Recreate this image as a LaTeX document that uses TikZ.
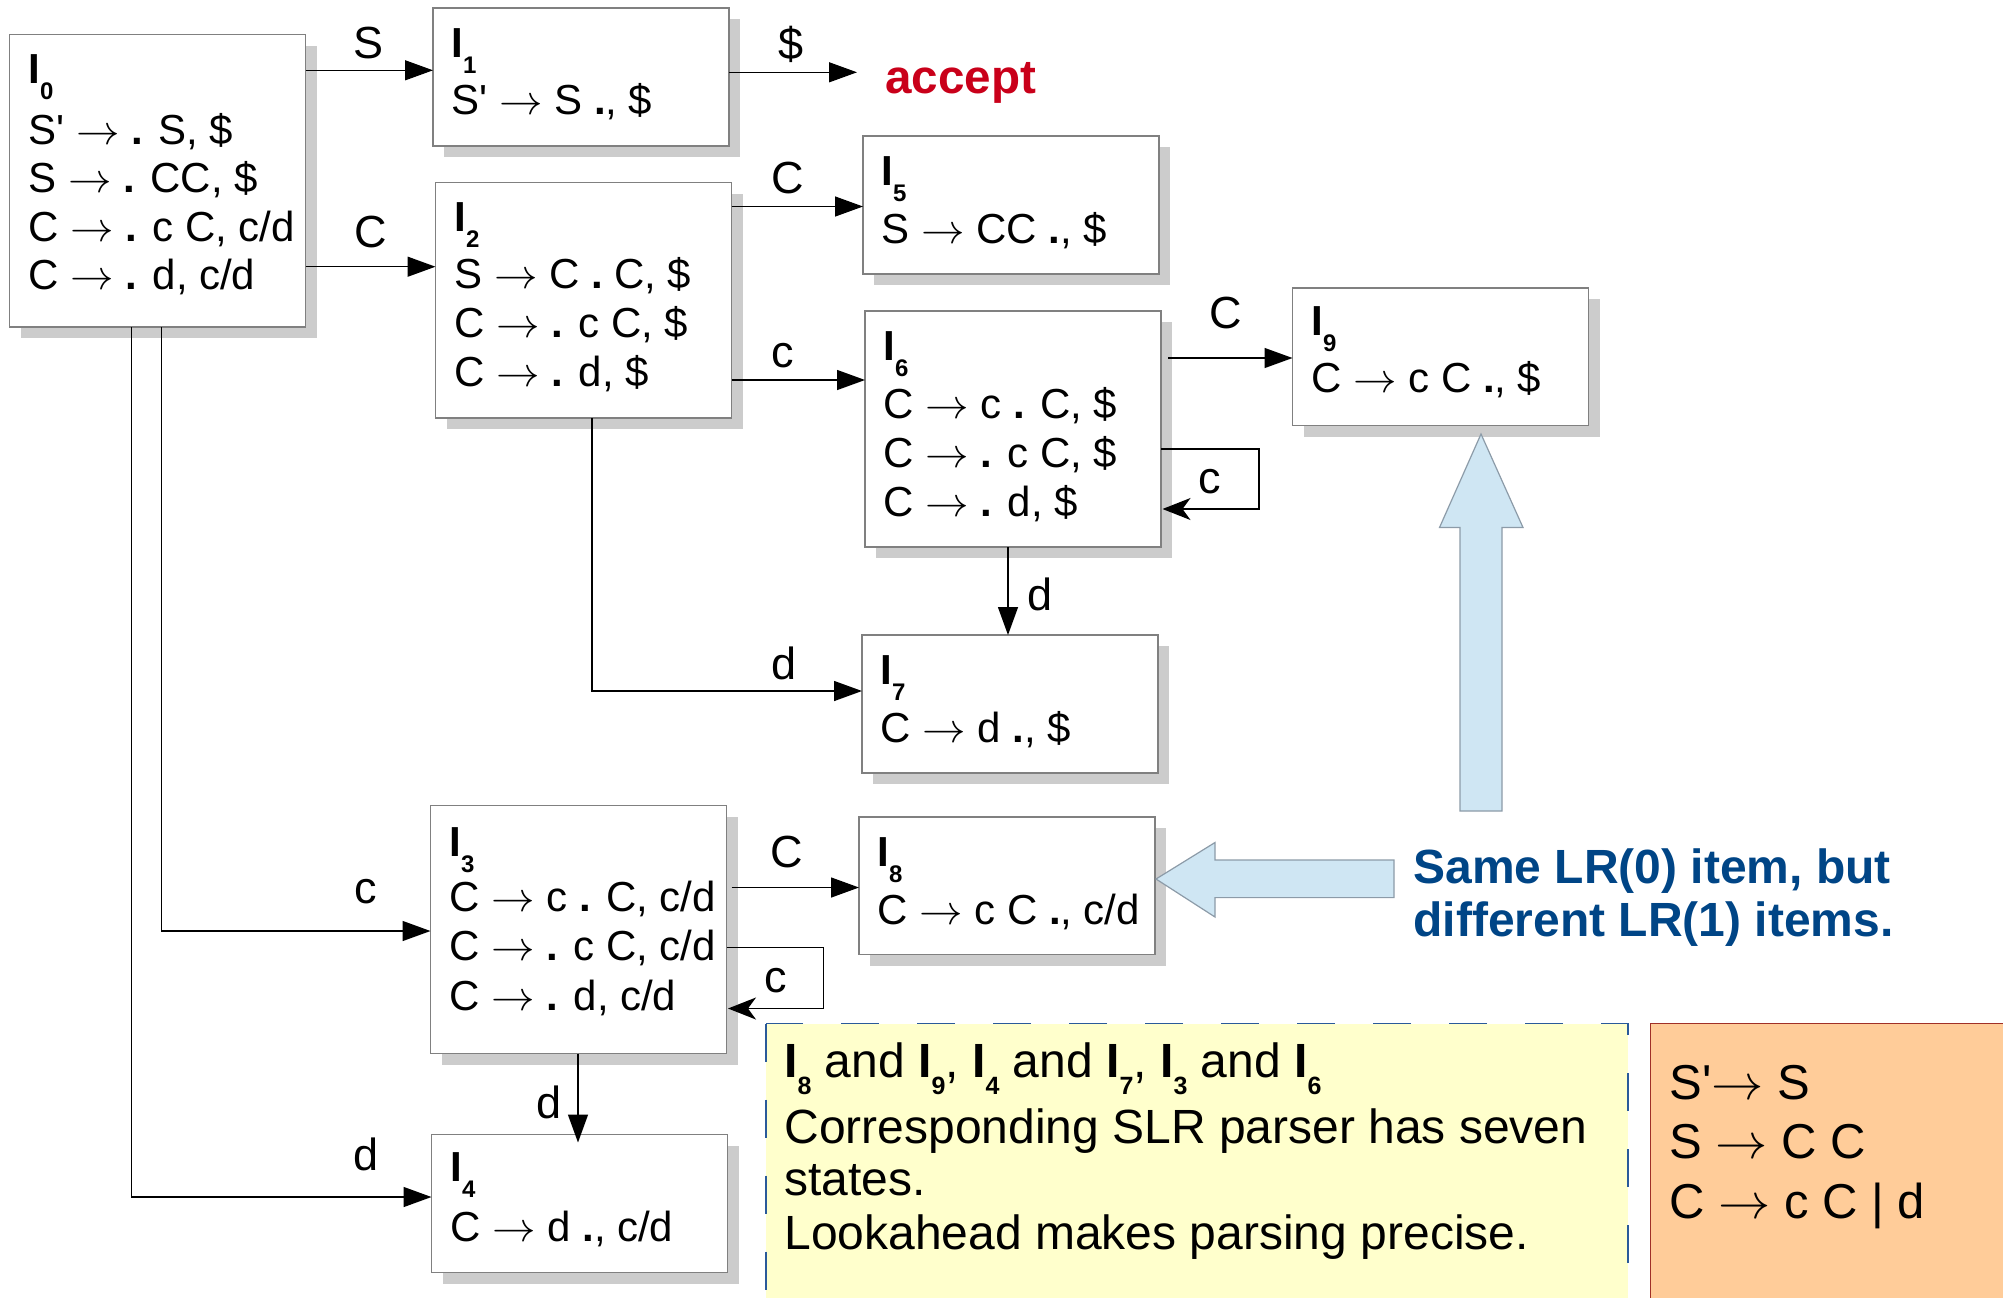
\documentclass[tikz,border=0pt]{standalone}
\usepackage{fontspec}
\setmainfont{Liberation Sans}
\usetikzlibrary{arrows.meta,shadows,calc}

\definecolor{boxline}{HTML}{808080}
\definecolor{shade}{HTML}{CCCCCC}
\definecolor{acceptred}{HTML}{C9001A}
\definecolor{notetext}{HTML}{004586}
\definecolor{bigarrow}{HTML}{CFE6F3}
\definecolor{bigarrowline}{HTML}{8C9BA8}
\definecolor{notefill}{HTML}{FFFFCC}
\definecolor{noteline}{HTML}{2A5A9A}
\definecolor{gramfill}{HTML}{FFCC99}
\definecolor{gramline}{HTML}{A03028}

% item-set title: bold I with a bold subscript number
\newcommand\ttl[1]{\textbf{\fontsize{21}{21}\selectfont I\raisebox{-8pt}{\fontsize{12}{12}\selectfont #1}}}
% same, at the size of the note text
\newcommand\nst[1]{\textbf{I\raisebox{-8.5pt}{\fontsize{12.5}{12.5}\selectfont #1}}}
\newcommand\dt{\textbf{.}}
\newcommand\la{,\hspace{0.27em}}
\newcommand\ar{\scalebox{1.05}[1]{\(\rightarrow\)}}
\newcommand\pr{\textquotesingle}

\begin{document}
\begin{tikzpicture}[x=0.5pt,y=-0.5pt,
  state/.style={draw=boxline, line width=0.7pt, fill=white, outer sep=0pt,
    anchor=north west, minimum width=148pt, inner sep=0pt,
    drop shadow={shadow xshift=5.5pt, shadow yshift=-5.5pt, fill=shade, opacity=1}},
  itm/.style={anchor=base west, inner sep=0pt, font=\fontsize{21}{21}\selectfont},
  ttlnode/.style={anchor=base west, inner sep=0pt},
  lbl/.style={inner sep=0pt, font=\fontsize{22.5}{22.5}\selectfont},
  arr/.style={line width=0.7pt, -{Triangle[length=14pt,width=10pt]}},
  looparr/.style={line width=0.7pt, -{Stealth[length=14pt,width=11pt,inset=4pt]}},
  fat/.style={fill=bigarrow, draw=bigarrowline, line width=0.6pt, line join=miter},
  note/.style={anchor=base west, inner sep=0pt, font=\fontsize{24}{24}\selectfont},
  gram/.style={anchor=base west, inner sep=0pt, font=\fontsize{24.5}{24.5}\selectfont},
  bluetext/.style={anchor=base west, inner sep=0pt, text=notetext,
    font=\fontsize{24}{24}\selectfont\bfseries}
]
\useasboundingbox (0,0) rectangle (2003,1297);

% ---------- item-set boxes ----------
\node[state, minimum height=146.15pt] (I0) at (9.5,34.7) {};
\node[state, minimum height=69pt]     (I1) at (433,8) {};
\node[state, minimum height=117.75pt] (I2) at (435.5,182.5) {};
\node[state, minimum height=69pt]     (I5) at (863,136) {};
\node[state, minimum height=118pt]    (I6) at (865,311) {};
\node[state, minimum height=68.75pt]  (I9) at (1292.5,288) {};
\node[state, minimum height=69pt]     (I7) at (862,635) {};
\node[state, minimum height=124pt]    (I3) at (430.5,805.5) {};
\node[state, minimum height=68.75pt]  (I8) at (859,817) {};
\node[state, minimum height=69pt]     (I4) at (431.5,1134.5) {};

% ---------- box contents ----------
\node[ttlnode] (t0) at (28,83) {\ttl{0}};
\node[itm] (i0a) at (28,144)   {S\pr{} \ar{} \dt{} S\la \$};
\node[itm] (i0b) at (28,192.5) {S \ar{} \dt{} CC\la \$};
\node[itm] (i0c) at (28,241)   {C \ar{} \dt{} c C\la c/d};
\node[itm] (i0d) at (28,289.5) {C \ar{} \dt{} d\la c/d};

\node[ttlnode] (t1) at (451,57) {\ttl{1}};
\node[itm] (i1a) at (451,114) {S\pr{} \ar{} S \dt\la \$};

\node[ttlnode] (t2) at (454,231) {\ttl{2}};
\node[itm] (i2a) at (454,288) {S \ar{} C \dt{} C\la \$};
\node[itm] (i2b) at (454,337) {C \ar{} \dt{} c C\la \$};
\node[itm] (i2c) at (454,386) {C \ar{} \dt{} d\la \$};

\node[ttlnode] (t5) at (881,185) {\ttl{5}};
\node[itm] (i5a) at (881,243) {S \ar{} CC \dt\la \$};

\node[ttlnode] (t6) at (883,360) {\ttl{6}};
\node[itm] (i6a) at (883,418) {C \ar{} c \dt{} C\la \$};
\node[itm] (i6b) at (883,467) {C \ar{} \dt{} c C\la \$};
\node[itm] (i6c) at (883,516) {C \ar{} \dt{} d\la \$};

\node[ttlnode] (t9) at (1311,335) {\ttl{9}};
\node[itm] (i9a) at (1311,392.5) {C \ar{} c C \dt\la \$};

\node[ttlnode] (t7) at (880,684) {\ttl{7}};
\node[itm] (i7a) at (880,742) {C \ar{} d \dt\la \$};

\node[ttlnode] (t3) at (449,856) {\ttl{3}};
\node[itm] (i3a) at (449,911)    {C \ar{} c \dt{} C\la c/d};
\node[itm] (i3b) at (449,960.5)  {C \ar{} \dt{} c C\la c/d};
\node[itm] (i3c) at (449,1010)   {C \ar{} \dt{} d\la c/d};

\node[ttlnode] (t8) at (877,866) {\ttl{8}};
\node[itm] (i8a) at (877,924) {C \ar{} c C \dt\la c/d};

\node[ttlnode] (t4) at (450,1181) {\ttl{4}};
\node[itm] (i4a) at (450,1241) {C \ar{} d \dt\la c/d};

\node[anchor=base west, inner sep=0pt, text=acceptred,
  font=\fontsize{23.8}{23.8}\selectfont\bfseries] (acc) at (885,93) {accept};

% ---------- transitions ----------
\draw[arr] ($(I0.north east)+(0,35.6)$) coordinate (p) -- (p -| I1.west);
\draw[arr] ($(I1.north east)+(0,64.3)$) coordinate (p) -- ($(p -| acc.west)+(-28,0)$);
\draw[arr] ($(I0.north east)+(0,232)$) coordinate (p) -- (p -| I2.west);
\draw[arr] ($(I2.north east)+(0,24)$) coordinate (p) -- (p -| I5.west);
\draw[arr] ($(I2.north east)+(0,197.5)$) coordinate (p) -- (p -| I6.west);
\draw[arr] ($(I6.north east)+(7,47)$) coordinate (p) -- (p -| I9.west);
\draw[looparr] ($(I6.north east)+(0,138)$) -| ($(I6.north east)+(98,198)$) -- ($(I6.north east)+(1.5,198)$);
\draw[arr] ($(I6.south west)+(143,0)$) coordinate (p) -- (p |- I7.north);
\draw[arr] ($(I2.south west)+(156.5,0)$) |- ($(I7.north west)+(0,56)$);
\draw[arr] ($(I0.south west)+(151.8,0)$) |- ($(I3.north west)+(0,125.5)$);
\draw[arr] ($(I3.north east)+(5,82)$) coordinate (p) -- (p -| I8.west);
\draw[looparr] ($(I3.north east)+(0,142)$) -| ($(I3.north east)+(97,203)$) -- ($(I3.north east)+(1.5,203)$);
\draw[arr] ($(I3.south west)+(147.5,0)$) coordinate (p) -- ($(p |- I4.north)+(0,8)$);
\draw[arr] ($(I0.south west)+(122,0)$) |- ($(I4.north west)+(0,62.5)$);

% ---------- transition labels ----------
\node[lbl] (lS)   at (369,43)   {S};
\node[lbl] (lacc) at (791,44)   {\$};
\node[lbl] (l02)  at (371,232)  {C};
\node[lbl] (l25)  at (788,178)  {C};
\node[lbl] (l26)  at (783,356)  {c};
\node[lbl] (l69)  at (1226,313) {C};
\node[lbl] (l66)  at (1210,482) {c};
\node[lbl] (l67)  at (1040,594) {d};
\node[lbl] (l27)  at (784,663)  {d};
\node[lbl] (l03)  at (366,892)  {c};
\node[lbl] (l38)  at (787,852)  {C};
\node[lbl] (l33)  at (776,981)  {c};
\node[lbl] (l34)  at (549,1102) {d};
\node[lbl] (l04)  at (366,1154) {d};

% ---------- block arrows pointing at I9 and I8 ----------
\draw[fat] (1481,434) -- (1523,527.5) -- (1502,527.5) -- (1502,811)
  -- (1460,811) -- (1460,527.5) -- (1439.5,527.5) -- cycle;
\draw[fat] (1156,879) -- (1215,842.5) -- (1215,860) -- (1394,860)
  -- (1394,897.6) -- (1215,897.6) -- (1215,917) -- cycle;

\node[bluetext] (b1) at (1413,883) {Same LR(0) item, but};
\node[bluetext] (b2) at (1413,936) {different LR(1) items.};

% ---------- note box ----------
\draw[fill=notefill, draw=noteline, line width=0.9pt, dash pattern=on 19pt off 19pt]
  (766,1023.5) rectangle (1628,1320);
\node[note] (n1) at (784,1077) {\nst{8} and \nst{9}, \nst{4} and \nst{7}, \nst{3} and \nst{6}};
\node[note] (n2) at (784,1143) {Corresponding SLR parser has seven};
\node[note] (n3) at (784,1195) {states.};
\node[note] (n4) at (784,1249) {Lookahead makes parsing precise.};

% ---------- grammar box ----------
\draw[fill=gramfill, draw=gramline, line width=0.8pt] (1650.5,1023.5) rectangle (2020,1320);
\node[gram] (g1) at (1669,1099)   {S\pr\ar{} S};
\node[gram] (g2) at (1669,1158.5) {S \ar{} C C};
\node[gram] (g3) at (1669,1218)   {C \ar{} c C | d};
\end{tikzpicture}
\end{document}
